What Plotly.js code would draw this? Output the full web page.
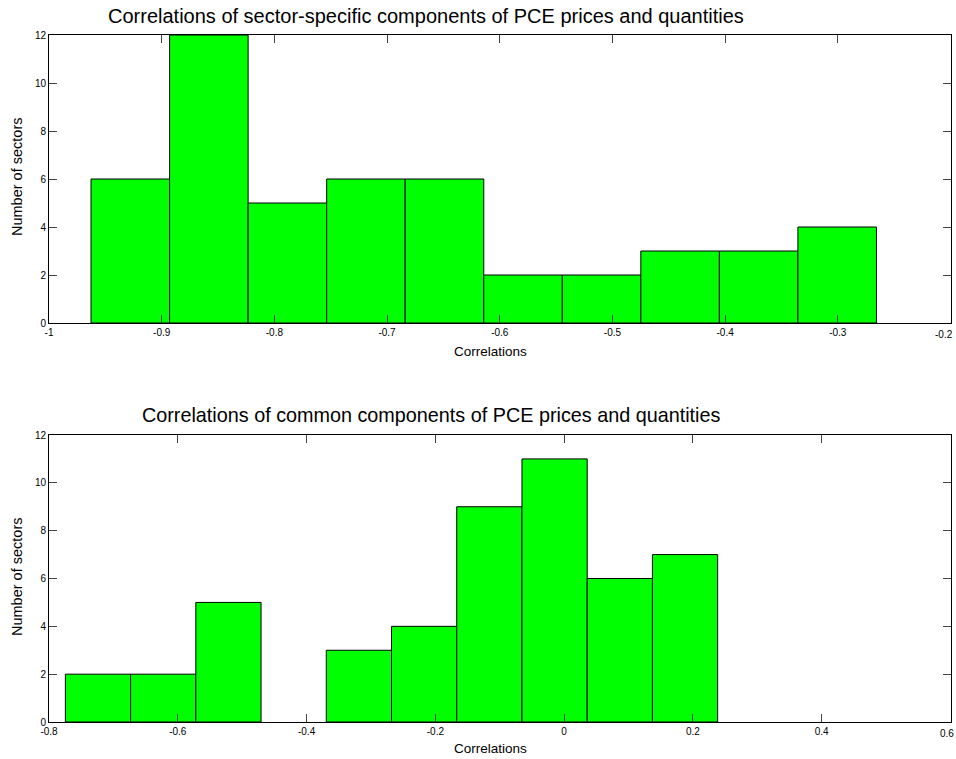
<!DOCTYPE html>
<html>
<head>
<meta charset="utf-8">
<script src="https://cdn.plot.ly/plotly-3.0.1.min.js"></script>
<style>
  html, body { margin: 0; padding: 0; background: #fff; }
  #chart { width: 956px; height: 759px; }
</style>
</head>
<body>
<div id="chart"></div>
<script>
// Histogram counts (number of sectors per correlation bin)
const sectorBinStart = -0.9627;
const sectorBinWidth = 0.0697;
const sectorCounts = [6, 12, 5, 6, 6, 2, 2, 3, 3, 4];

const commonBinStart = -0.7746;
const commonBinWidth = 0.1013;
const commonCounts = [2, 2, 5, 0, 3, 4, 9, 11, 6, 7];

const topTickVals = [-1, -0.9, -0.8, -0.7, -0.6, -0.5, -0.4, -0.3, -0.2];
const topTickText = ['-1', '-0.9', '-0.8', '-0.7', '-0.6', '-0.5', '-0.4', '-0.3', '-0.2'];
const botTickVals = [-0.8, -0.6, -0.4, -0.2, 0, 0.2, 0.4, 0.6];
const botTickText = ['-0.8', '-0.6', '-0.4', '-0.2', '0', '0.2', '0.4', '0.6'];
const yTickVals = [0, 2, 4, 6, 8, 10, 12];

const topTitle = 'Correlations of sector-specific components of PCE prices and quantities';
const botTitle = 'Correlations of common components of PCE prices and quantities';
const xLabel = 'Correlations';
const yLabel = 'Number of sectors';

function centers(start, width, n) {
  const c = [];
  for (let i = 0; i < n; i++) c.push(start + width * (i + 0.5));
  return c;
}

const FONT = 'Arial, "Liberation Sans", sans-serif';

function barMarker(counts) {
  // empty bins get no outline so nothing is drawn for them
  return {
    color: '#00ff00',
    line: { color: '#000', width: counts.map(v => (v > 0 ? 1 : 0)) }
  };
}

const traces = [
  {
    type: 'bar',
    x: centers(sectorBinStart, sectorBinWidth, sectorCounts.length),
    y: sectorCounts,
    width: sectorBinWidth,
    marker: barMarker(sectorCounts),
    xaxis: 'x', yaxis: 'y',
    hoverinfo: 'x+y'
  },
  {
    type: 'bar',
    x: centers(commonBinStart, commonBinWidth, commonCounts.length),
    y: commonCounts,
    width: commonBinWidth,
    marker: barMarker(commonCounts),
    xaxis: 'x2', yaxis: 'y2',
    hoverinfo: 'x+y'
  }
];

// The rightmost tick label sits against the page edge, so the axis leaves it
// blank and it is placed as a right-aligned label below that tick instead.
function xAxis(lo, hi, vals, text, anchor, domain) {
  const pad = (hi - lo) * 1e-6;
  const shown = text.map((t, i) => (i === text.length - 1 ? '' : t));
  return {
    domain: domain, anchor: anchor, range: [lo - pad, hi + pad],
    tickmode: 'array', tickvals: vals, ticktext: shown,
    ticks: 'inside', ticklen: 8, tickwidth: 1, tickcolor: '#444',
    showline: true, linecolor: '#000', linewidth: 1, mirror: 'ticks',
    showgrid: false, zeroline: false,
    tickfont: { family: FONT, size: 10, color: '#000' },
    fixedrange: true
  };
}
function yAxis(anchor, domain) {
  return {
    domain: domain, anchor: anchor, range: [0, 12.00001],
    tickmode: 'array', tickvals: yTickVals,
    ticks: 'inside', ticklen: 8, tickwidth: 1, tickcolor: '#444',
    showline: true, linecolor: '#000', linewidth: 1, mirror: 'ticks',
    showgrid: false, zeroline: false,
    tickfont: { family: FONT, size: 10, color: '#000' },
    fixedrange: true
  };
}

const W = 956, H = 759;
const xDom = [49 / W, 950.5 / W];
const topDom = [(H - 323) / H, (H - 35) / H];
const botDom = [(H - 722) / H, (H - 435) / H];

function ann(text, xpx, ypx, size, angle, xanchor) {
  return {
    text: text, xref: 'paper', yref: 'paper',
    x: xpx / W, y: 1 - ypx / H,
    xanchor: xanchor || 'center', yanchor: 'middle',
    showarrow: false, textangle: angle || 0,
    font: { family: FONT, size: size, color: '#000' }
  };
}

const layout = {
  width: W, height: H,
  margin: { l: 0, r: 0, t: 0, b: 0 },
  paper_bgcolor: '#fff', plot_bgcolor: '#fff',
  showlegend: false,
  bargap: 0,
  xaxis: xAxis(-1, -0.2, topTickVals, topTickText, 'y', xDom),
  yaxis: yAxis('x', topDom),
  xaxis2: xAxis(-0.8, 0.6, botTickVals, botTickText, 'y2', xDom),
  yaxis2: yAxis('x2', botDom),
  annotations: [
    ann(topTitle, 426, 16, 20, 0),
    ann(botTitle, 431, 415, 19.8, 0),
    ann(xLabel, 490, 351, 13.5, 0),
    ann(xLabel, 490, 748, 13.5, 0),
    ann(yLabel, 17, 177, 14.5, -90),
    ann(yLabel, 17, 577, 14.5, -90),
    ann(topTickText[topTickText.length - 1], 955, 334, 10, 0, 'right'),
    ann(botTickText[botTickText.length - 1], 956, 733, 10, 0, 'right')
  ]
};

Plotly.newPlot('chart', traces, layout, { displayModeBar: false, staticPlot: true });
</script>
</body>
</html>
